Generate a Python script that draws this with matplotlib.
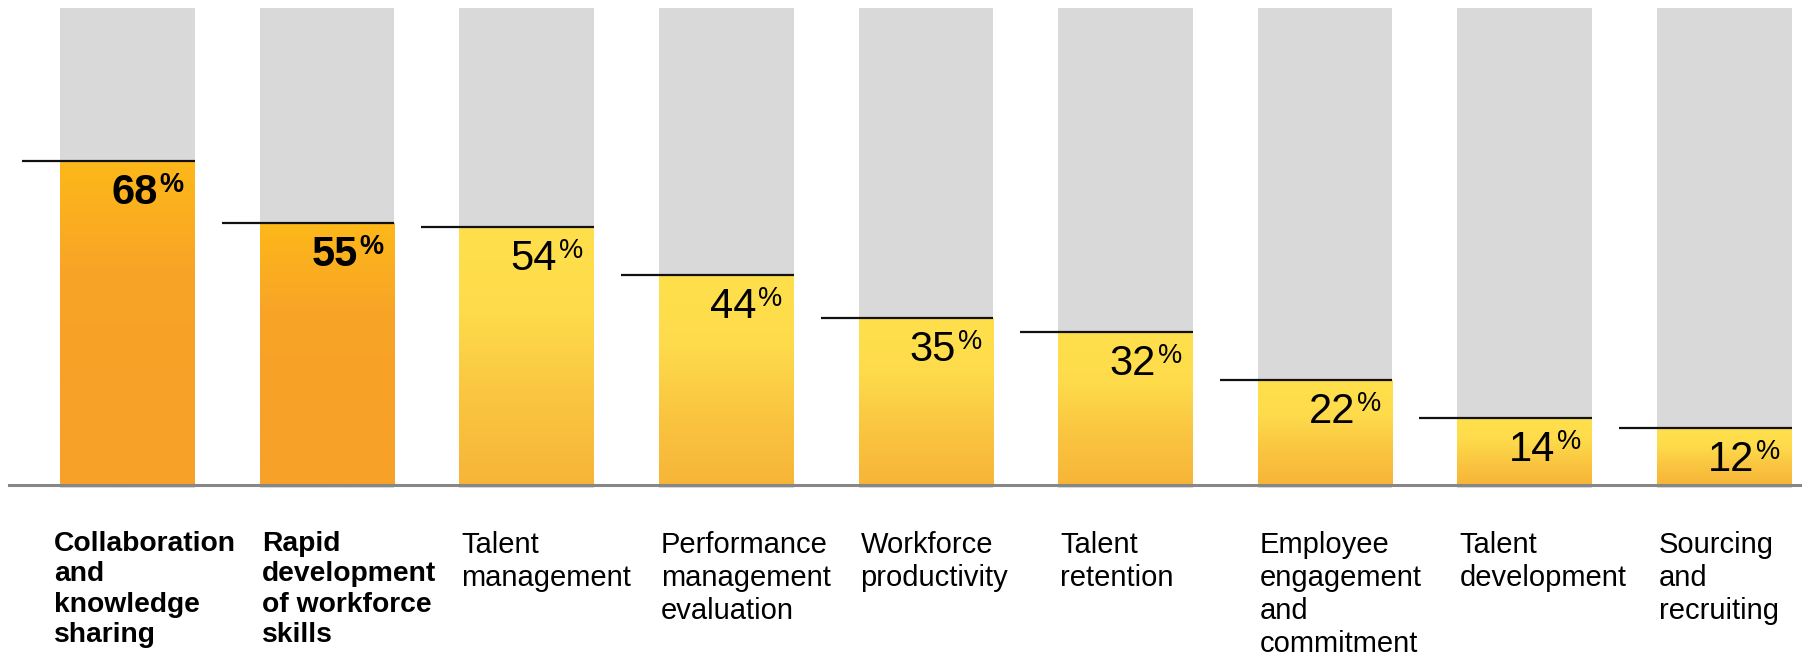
import numpy as np
import matplotlib.pyplot as plt
from matplotlib.colors import LinearSegmentedColormap

categories = ['Collaboration\nand\nknowledge\nsharing',
              'Rapid\ndevelopment\nof workforce\nskills',
              'Talent\nmanagement',
              'Performance\nmanagement\nevaluation',
              'Workforce\nproductivity',
              'Talent\nretention',
              'Employee\nengagement\nand\ncommitment',
              'Talent\ndevelopment',
              'Sourcing\nand\nrecruiting']
values = [68, 55, 54, 44, 35, 32, 22, 14, 12]
highlight = [True, True, False, False, False, False, False, False, False]

plt.rcParams['font.family'] = ['Liberation Sans', 'DejaVu Sans']

W, H, DPI = 1802, 656, 100
fig = plt.figure(figsize=(W / DPI, H / DPI), dpi=DPI)
ax = fig.add_axes([0, 0, 1, 1])
ax.axis('off')

# pixel layout: first bar centre at 127.5 px, pitch ~199.6 px; baseline 171 px from bottom, 100% = 477 px
pitch = 199.6
unit = 4.77
ax.set_xlim(-127.5 / pitch, (W - 127.5) / pitch)
ax.set_ylim(-171 / unit, (H - 171) / unit)

x = np.arange(len(values))
width = 0.675

orange = LinearSegmentedColormap.from_list('o', ['#F7A128', '#F7A128', '#F8A526', '#FDB819'])
yellow = LinearSegmentedColormap.from_list('y', ['#F7B538', '#FAC540', '#FEDB4B', '#FFE04C'])
grad = np.linspace(0, 1, 256).reshape(-1, 1)

# grey background (100%)
ax.bar(x, [100.6] * len(x), width, bottom=-0.6, color='#D9D9D9', zorder=1)

bars = ax.bar(x, values, width, color='#F8B536', zorder=2)
for rect, v, hl in zip(bars, values, highlight):
    x0 = rect.get_x()
    cm = orange if hl else yellow
    im = ax.imshow(grad, cmap=cm, origin='lower', aspect='auto',
                   extent=(x0, x0 + rect.get_width(), 0, v), zorder=3)
    im.set_clip_path(rect)
    # marker line
    ax.plot([x0 - 38 / pitch, x0 + rect.get_width()], [v, v], color='#111111', lw=1.6,
            solid_capstyle='butt', zorder=4)
    weight = 'bold' if hl else 'normal'
    xr = x0 + rect.get_width()
    ax.annotate('%', (xr, v), xytext=(-11, -31), textcoords='offset pixels',
                ha='right', va='baseline', fontsize=19.5, fontweight=weight, zorder=5)
    ax.annotate(str(v), (xr, v), xytext=(-37, -43), textcoords='offset pixels',
                ha='right', va='baseline', fontsize=30, fontweight=weight, zorder=5)

# baseline
ax.axhline(0, xmin=9 / W, xmax=1, color='#878787', lw=2.2, zorder=6)

# category labels
for i, (lab, hl) in enumerate(zip(categories, highlight)):
    dx = -6 if i == 0 else 2
    ax.annotate(lab, (x[i] - width / 2, 0), xytext=(dx, -46), textcoords='offset pixels',
                ha='left', va='top', fontsize=21 if not hl else 20.3,
                fontweight='bold' if hl else 'normal', linespacing=1.22)

fig.savefig('out.png', dpi=DPI)
